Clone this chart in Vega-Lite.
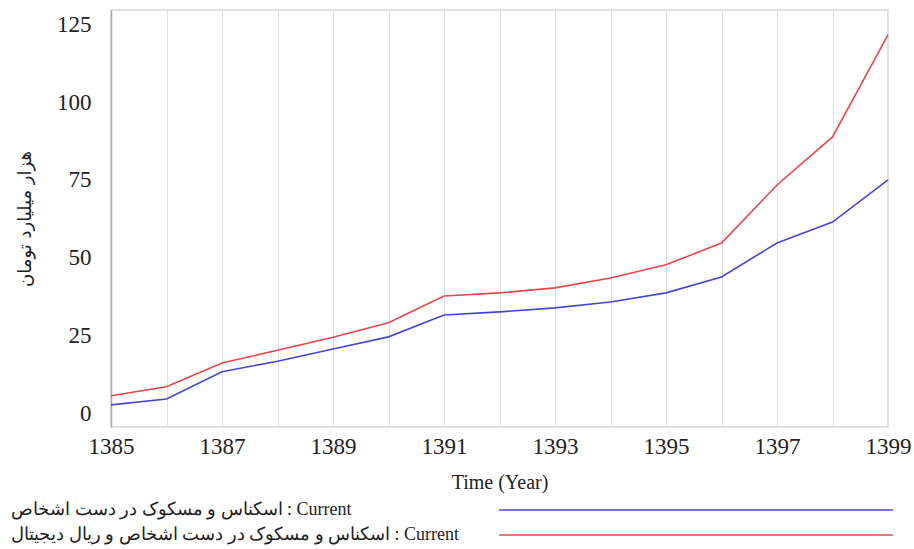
{
  "$schema": "https://vega.github.io/schema/vega-lite/v6.json",
  "width": 777,
  "height": 417,
  "autosize": {"type": "none"},
  "padding": {"left": 111, "top": 10, "right": 26, "bottom": 122},
  "background": "white",
  "config": {
    "view": {"stroke": "#d6d6d6", "strokeWidth": 1.5},
    "font": "Liberation Serif"
  },
  "data": {
    "values": [
      {"year": 1385, "series": "اسکناس و مسکوک در دست اشخاص : Current", "value": 2.9},
      {"year": 1386, "series": "اسکناس و مسکوک در دست اشخاص : Current", "value": 4.8},
      {"year": 1387, "series": "اسکناس و مسکوک در دست اشخاص : Current", "value": 13.5},
      {"year": 1388, "series": "اسکناس و مسکوک در دست اشخاص : Current", "value": 16.9},
      {"year": 1389, "series": "اسکناس و مسکوک در دست اشخاص : Current", "value": 20.8},
      {"year": 1390, "series": "اسکناس و مسکوک در دست اشخاص : Current", "value": 24.7},
      {"year": 1391, "series": "اسکناس و مسکوک در دست اشخاص : Current", "value": 31.7},
      {"year": 1392, "series": "اسکناس و مسکوک در دست اشخاص : Current", "value": 32.7},
      {"year": 1393, "series": "اسکناس و مسکوک در دست اشخاص : Current", "value": 34.0},
      {"year": 1394, "series": "اسکناس و مسکوک در دست اشخاص : Current", "value": 35.9},
      {"year": 1395, "series": "اسکناس و مسکوک در دست اشخاص : Current", "value": 38.8},
      {"year": 1396, "series": "اسکناس و مسکوک در دست اشخاص : Current", "value": 43.9},
      {"year": 1397, "series": "اسکناس و مسکوک در دست اشخاص : Current", "value": 54.8},
      {"year": 1398, "series": "اسکناس و مسکوک در دست اشخاص : Current", "value": 61.5},
      {"year": 1399, "series": "اسکناس و مسکوک در دست اشخاص : Current", "value": 75.0},
      {"year": 1385, "series": "اسکناس و مسکوک در دست اشخاص و ریال دیجیتال : Current", "value": 5.8},
      {"year": 1386, "series": "اسکناس و مسکوک در دست اشخاص و ریال دیجیتال : Current", "value": 8.7},
      {"year": 1387, "series": "اسکناس و مسکوک در دست اشخاص و ریال دیجیتال : Current", "value": 16.3},
      {"year": 1388, "series": "اسکناس و مسکوک در دست اشخاص و ریال دیجیتال : Current", "value": 20.4},
      {"year": 1389, "series": "اسکناس و مسکوک در دست اشخاص و ریال دیجیتال : Current", "value": 24.6},
      {"year": 1390, "series": "اسکناس و مسکوک در دست اشخاص و ریال دیجیتال : Current", "value": 29.2},
      {"year": 1391, "series": "اسکناس و مسکوک در دست اشخاص و ریال دیجیتال : Current", "value": 37.8},
      {"year": 1392, "series": "اسکناس و مسکوک در دست اشخاص و ریال دیجیتال : Current", "value": 38.8},
      {"year": 1393, "series": "اسکناس و مسکوک در دست اشخاص و ریال دیجیتال : Current", "value": 40.4},
      {"year": 1394, "series": "اسکناس و مسکوک در دست اشخاص و ریال دیجیتال : Current", "value": 43.6},
      {"year": 1395, "series": "اسکناس و مسکوک در دست اشخاص و ریال دیجیتال : Current", "value": 47.8},
      {"year": 1396, "series": "اسکناس و مسکوک در دست اشخاص و ریال دیجیتال : Current", "value": 54.8},
      {"year": 1397, "series": "اسکناس و مسکوک در دست اشخاص و ریال دیجیتال : Current", "value": 73.4},
      {"year": 1398, "series": "اسکناس و مسکوک در دست اشخاص و ریال دیجیتال : Current", "value": 88.8},
      {"year": 1399, "series": "اسکناس و مسکوک در دست اشخاص و ریال دیجیتال : Current", "value": 121.5}
    ]
  },
  "mark": {"type": "line", "strokeWidth": 1.6},
  "encoding": {
    "x": {
      "field": "year",
      "type": "quantitative",
      "scale": {"domain": [1385, 1399], "nice": false, "zero": false},
      "axis": {
        "values": [1385, 1386, 1387, 1388, 1389, 1390, 1391, 1392, 1393, 1394, 1395, 1396, 1397, 1398, 1399],
        "format": "d",
        "labelExpr": "datum.value % 2 == 1 ? datum.label : ''",
        "title": "Time (Year)",
        "titleFont": "Liberation Serif",
        "titleFontWeight": "normal",
        "titleFontSize": 20,
        "titleColor": "#222222",
        "titlePadding": 14,
        "labelFont": "Liberation Serif",
        "labelFontSize": 23,
        "labelColor": "#222222",
        "labelPadding": 8,
        "labelFlush": false,
        "labelOverlap": false,
        "ticks": false,
        "domain": false,
        "grid": true,
        "gridColor": "#e2e2e2",
        "gridWidth": 1
      }
    },
    "y": {
      "field": "value",
      "type": "quantitative",
      "scale": {"domain": [-4.2, 129.5], "nice": false, "zero": false},
      "axis": {
        "values": [0, 25, 50, 75, 100, 125],
        "title": "هزار میلیارد تومان",
        "titleFont": "DejaVu Sans",
        "titleFontWeight": "normal",
        "titleFontSize": 18,
        "titleColor": "#222222",
        "titlePadding": 22,
        "labelFont": "Liberation Serif",
        "labelFontSize": 23,
        "labelColor": "#222222",
        "labelPadding": 20,
        "ticks": false,
        "grid": false,
        "domain": true,
        "domainColor": "#aaaaaa",
        "domainWidth": 1.5
      }
    },
    "color": {
      "field": "series",
      "type": "nominal",
      "scale": {
        "domain": ["اسکناس و مسکوک در دست اشخاص : Current", "اسکناس و مسکوک در دست اشخاص و ریال دیجیتال : Current"],
        "range": ["#4646d2", "#e8464a"]
      },
      "legend": {
        "title": null,
        "orient": "none",
        "legendX": 576,
        "legendY": 491,
        "direction": "vertical",
        "padding": 0,
        "symbolType": "M-50,0H50",
        "symbolSize": 62,
        "symbolStrokeWidth": 1.6,
        "rowPadding": 7,
        "labelAlign": "left",
        "labelOffset": -694,
        "labelLimit": 0,
        "labelFont": "Liberation Serif",
        "labelFontSize": 18,
        "labelColor": "#222222"
      }
    }
  }
}
